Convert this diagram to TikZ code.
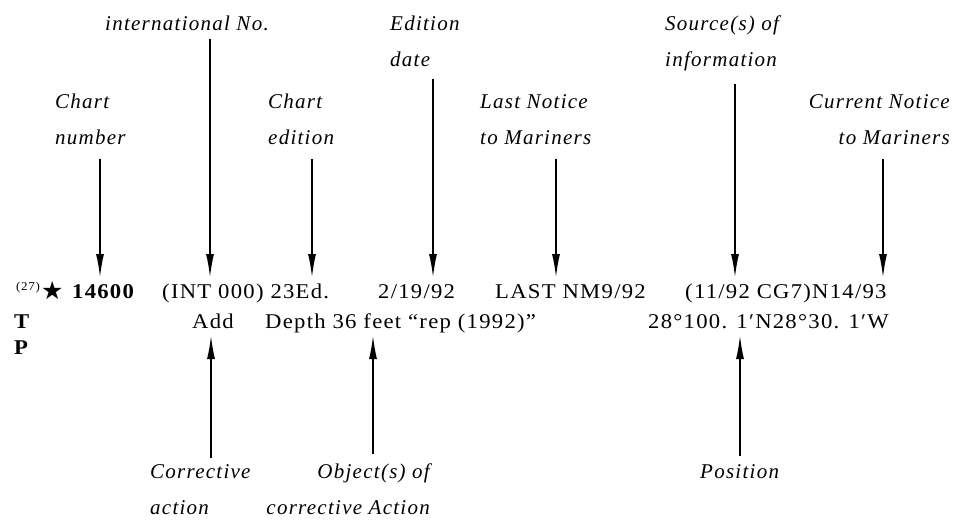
\documentclass[tikz,border=0pt]{standalone}
\usepackage{fontspec}
\setmainfont{Liberation Serif}[LetterSpace=6]
\newfontfamily\wideserif{Liberation Serif}[LetterSpace=6, FakeStretch=1.08]
\newfontfamily\symfont{DejaVu Sans}
\usetikzlibrary{arrows.meta,positioning}

\tikzset{
  tag/.style={font=\fontsize{21}{36}\selectfont\itshape, align=left, inner sep=0pt},
  entry/.style={font=\fontsize{21}{26}\wideserif, inner sep=0pt, anchor=base west},
  pointer/.style={line width=1.8pt, -{Latex[length=24pt,width=8pt]}},
}

\begin{document}
\begin{tikzpicture}[x=1pt, y=-1pt]
\useasboundingbox (0,0) rectangle (964,524);
% ---------------- labels above ----------------
\node[tag, anchor=north west] (intl)     at (105,16) {international No.};
\node[tag, anchor=north west] (eddate)   at (390,16) {Edition\\date};
\node[tag, anchor=north west] (source)   at (665,16) {Source(s) of\\information};
\node[tag, anchor=north west] (chartno)  at (55,94)  {Chart\\number};
\node[tag, anchor=north west] (chartedn) at (268,94) {Chart\\edition};
\node[tag, anchor=north west] (lastnm)   at (480,94) {Last Notice\\to Mariners};
\node[tag, anchor=north east, align=right] (curnm) at (950,94) {Current Notice\\to Mariners};
% ---------------- the entry ----------------
\node[entry, font=\fontsize{12}{12}\wideserif] (ref) at (16,290) {(27)};
\node[entry, font=\fontsize{25}{26}\symfont] (star) at (41,299) {★};
\node[entry, font=\fontsize{21}{26}\wideserif\bfseries] (chart) at (72,298) {14600};
\node[entry] (intno) at (162,298) {(INT 000) 23Ed.};
\node[entry] (date)  at (378,298) {2/19/92};
\node[entry] (last)  at (495,298) {LAST NM9/92};
\node[entry] (curr)  at (685,298) {(11/92 CG7)N14/93};
\node[entry, font=\fontsize{21}{26}\wideserif\bfseries] (rowt) at (14,328) {T};
\node[entry] (add)   at (192,328) {Add};
\node[entry] (depth) at (265,328) {Depth 36 feet “rep (1992)”};
\node[entry] (posn)  at (648,328) {28°100. 1′N28°30. 1′W};
\node[entry, font=\fontsize{21}{26}\wideserif\bfseries] (rowp) at (14,354) {P};
% ---------------- labels below ----------------
\node[tag, anchor=north west] (corr) at (150,464) {Corrective\\action};
\node[tag, anchor=north east, align=right] (objs) at (430,464) {Object(s) of\\corrective Action};
\node[tag, anchor=north west] (pos)  at (700,464) {Position};
% arrow tips
\coordinate (d1) at (100,278);
\coordinate (d2) at (210,278);
\coordinate (d3) at (312,278);
\coordinate (d4) at (433,278);
\coordinate (d5) at (556,278);
\coordinate (d6) at (735,278);
\coordinate (d7) at (883,278);
\coordinate (u1) at (211,335);
\coordinate (u2) at (373,335);
\coordinate (u3) at (740,335);
% ---------------- pointers ----------------
\draw[pointer, shorten <=14pt] (chartno.south -| d1) -- (d1);
\draw[pointer, shorten <=8pt]  (intl.south -| d2) -- (d2);
\draw[pointer, shorten <=14pt] (chartedn.south -| d3) -- (d3);
\draw[pointer, shorten <=12pt] (eddate.south -| d4) -- (d4);
\draw[pointer, shorten <=14pt] (lastnm.south -| d5) -- (d5);
\draw[pointer, shorten <=12pt] (source.south -| d6) -- (d6);
\draw[pointer, shorten <=14pt] (curnm.south -| d7) -- (d7);
\draw[pointer, shorten <=6pt]  (corr.north -| u1) -- (u1);
\draw[pointer, shorten <=10pt] (objs.north -| u2) -- (u2);
\draw[pointer, shorten <=8pt]  (pos.north -| u3) -- (u3);
\end{tikzpicture}
\end{document}
